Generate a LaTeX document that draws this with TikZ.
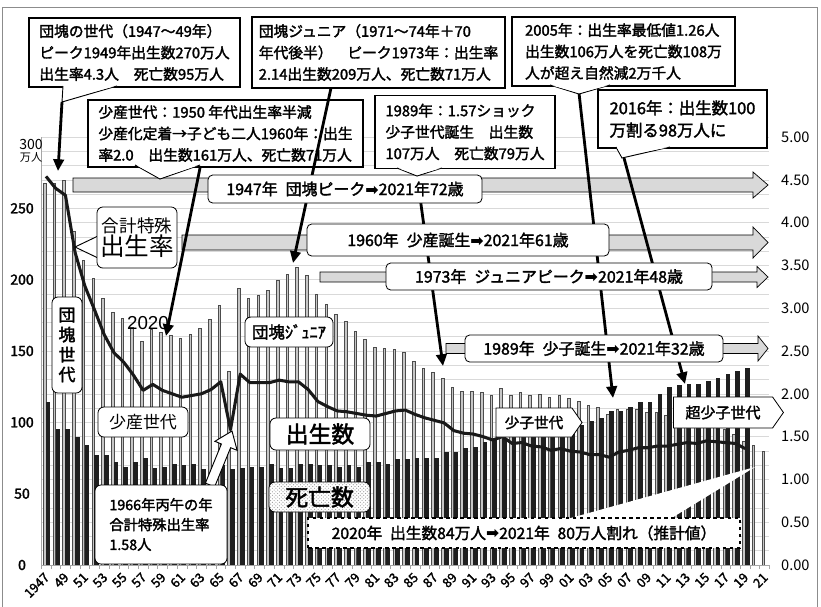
\documentclass[tikz,border=0pt]{standalone}
\usepackage{fontspec}
\setmainfont{Noto Sans CJK JP}[AutoFakeBold=2]
\newfontfamily\symfont{DejaVu Sans}
\newfontfamily\numfont{Liberation Sans}
\usepackage{tikz}
\usetikzlibrary{arrows.meta,patterns,shapes.symbols}

\newcommand\pix{*0.03cm}
\newcommand\fs[2]{\fontsize{#1}{#2}\selectfont}
\newcommand\goto{{\symfont ➡}}
% gray arrow: start x, centre y, body half, head half, head base
\newcommand\agearrow[5]{\draw[age arrow] (#1,{#2-#3}) -- (#5,{#2-#3}) -- (#5,{#2-#4}) -- (768,#2) -- (#5,{#2+#4}) -- (#5,{#2+#3}) -- (#1,{#2+#3}) -- cycle;}

\tikzset{
  grid line/.style={gray!30, line width=0.5pt},
  axis line/.style={gray!70, line width=0.6pt},
  birth bar/.style={fill=gray!45, draw=black!70, line width=0.25pt},
  death bar/.style={fill=black!88},
  rate line/.style={black!90, line width=2.6pt, line join=round},
  age arrow/.style={fill=gray!30, draw=black, line width=0.6pt},
  call arrow/.style={line width=2.4pt, -{Triangle[length=10pt,width=9pt]}},
  wedge/.style={fill=white, draw=black, line width=0.8pt},
  notebox/.style={draw=black, fill=white, line width=1.1pt, inner sep=0pt, align=left, font=\bfseries\fs{12.6}{18.3}},
  agebox/.style={draw=black, fill=white, rounded corners=4pt, line width=0.7pt, inner sep=0pt, font=\bfseries\fs{13.6}{15}},
  tagbox/.style={draw=black, fill=white, rounded corners=5pt, line width=0.7pt, inner sep=0pt, align=center},
  genbox/.style={signal, signal to=east, signal pointer angle=110, draw=black, fill=white, line width=0.7pt, inner sep=0pt},
  lefttick/.style={font=\bfseries\fs{12}{14}},
  righttick/.style={anchor=west, font=\fs{12.5}{14}},
  yeartick/.style={anchor=east, rotate=45, inner sep=0pt, font=\bfseries\fs{11}{12}}
}

\begin{document}
\begin{tikzpicture}[x=0.03cm, y=-0.03cm]
\useasboundingbox (0,0) rectangle (821,606);
\draw[black!45, line width=0.8pt] (2,7) rectangle (817,620);

% grid
\foreach \v in {10,20,...,300}
  \draw[grid line] (41,{565-1.4267*\v}) -- (769,{565-1.4267*\v});

% births (10k)
\foreach \b [count=\k from 0] in {268,268,270,234,214,201,187,177,173,167,157,165,163,161,159,162,166,172,182,136,194,187,189,193,200,204,209,203,190,183,176,171,164,158,153,152,151,149,143,138,135,131,125,122,122,121,119,124,119,121,119,120,118,119,117,115,112,111,106,109,109,109,107,107,105,104,103,100,101,98,95,92,87,84,80}
  \draw[birth bar] ({43.1+9.71*\k},565) rectangle ({45.7+9.71*\k},{565-1.4267*\b});
% deaths (10k)
\foreach \d [count=\k from 0] in {114,95,95,90,84,77,77,72,69,72,75,68,69,71,70,71,67,67,70,67,68,69,69,71,68,68,71,71,70,70,69,70,69,72,72,71,74,74,75,75,75,79,79,82,83,86,88,88,92,90,91,94,98,96,97,98,101,103,108,108,111,114,114,120,125,126,127,127,129,131,134,136,138}
  \fill[death bar] ({45.8+9.71*\k},565) rectangle ({50.4+9.71*\k},{565-1.4267*\d});

% axes
\draw[axis line] (41.2,137) -- (41.2,565) -- (769,565);
\foreach \k in {0,...,75}
  \draw[axis line] ({41.2+9.71*\k},565) -- ++(0,4);

% total fertility rate
\draw[rate line] (46,{565-85.6*4.54}) \foreach \r [count=\k] in {4.40,4.32,3.65,3.26,2.98,2.69,2.48,2.37,2.22,2.04,2.11,2.04,2.00,1.96,1.98,2.00,2.05,2.14,1.58,2.23,2.13,2.13,2.13,2.16,2.14,2.14,2.05,1.91,1.85,1.80,1.79,1.77,1.75,1.74,1.77,1.80,1.81,1.76,1.72,1.69,1.66,1.57,1.54,1.53,1.50,1.46,1.50,1.42,1.43,1.39,1.38,1.34,1.36,1.33,1.32,1.29,1.29,1.26,1.32,1.34,1.37,1.37,1.39,1.39,1.41,1.43,1.42,1.45,1.44,1.43,1.42,1.36} { -- ({46+9.71*\k},{565-85.6*\r}) };

% axis labels
\foreach \v in {0,50,100,150,200,250}
  \node[lefttick] (yl\v) at (22,{565-1.4267*\v}) {\v};
\node[lefttick, font=\fs{12}{14}] (ytop) at (31,144) {300};
\node[font=\fs{9.5}{10}] (yunit) at (31,157) {万人};
\foreach \r [count=\k] in {0.00,0.50,1.00,1.50,2.00,2.50,3.00,3.50,4.00,4.50,5.00}
  \node[righttick] (yr\k) at (777,{565-85.6*\r}) {\r};
\foreach \lab [count=\k from 0] in {1947,49,51,53,55,57,59,61,63,65,67,69,71,73,75,77,79,81,83,85,87,89,91,93,95,97,99,01,03,05,07,09,11,13,15,17,19,21}
  \node[yeartick] (yx\k) at ({47+19.42*\k},575) {\lab};

% gray age arrows
\agearrow{73}{185}{7}{13}{753}
\agearrow{182}{242.5}{7.5}{15.5}{753}
\agearrow{320}{277}{5}{10.5}{757}
\agearrow{446}{348.5}{5}{12.5}{758}

% note C sits under the junior arrow
\node[notebox, minimum width=275\pix, minimum height=67\pix] (noteC) at (225.5,133.5)
  {少産世代：1950 年代出生率半減\\少産化定着→子ども二人1960年：出生\\率2.0　出生数161万人、死亡数71万人};
\draw[wedge] (135,165) -- (160,179) -- (200,165);
\fill[white] (137,165.5) -- (160,178) -- (198,165.5) -- cycle;

% pointers
\coordinate (pA) at (62,102);   \coordinate (tA) at (58,171);
\coordinate (pB) at (331,88);   \coordinate (tB) at (293,263);
\coordinate (pC) at (200,168);  \coordinate (tC) at (166,336);
\coordinate (pD) at (417,175);  \coordinate (tD) at (443,366);
\coordinate (pE) at (579,93);   \coordinate (tE) at (613,398);
\coordinate (pF) at (624,158);  \coordinate (tF) at (685,384);
\foreach \p in {A,B,C,D,E,F}
  \draw[call arrow] (p\p) -- (t\p);

% age labels on the arrows
\node[agebox, minimum width=274\pix, minimum height=28\pix] (age47) at (345,189) {1947年\enspace 団塊ピーク\goto2021年72歳};
\node[agebox, minimum width=302\pix, minimum height=32\pix] (age60) at (458,240) {1960年\enspace 少産誕生\goto2021年61歳};
\node[agebox, minimum width=326\pix, minimum height=27\pix] (age73) at (549,276.5) {1973年\enspace ジュニアピーク\goto2021年48歳};
\node[agebox, minimum width=258\pix, minimum height=27\pix] (age89) at (594,348.5) {1989年\enspace 少子誕生\goto2021年32歳};

% notes
\node[notebox, minimum width=211\pix, minimum height=69\pix] (noteA) at (134.5,52.5)
  {団塊の世代（1947〜49年）\\ピーク1949年出生数270万人\\出生率4.3人　死亡数95万人};
\draw[wedge] (63,86) -- (62,102) -- (117,86);
\fill[white] (64,86.5) -- (63,100) -- (114,86.5) -- cycle;
\node[notebox, minimum width=253\pix, minimum height=71\pix] (noteB) at (378.5,52.5)
  {団塊ジュニア（1971〜74年＋70\\年代後半）　ピーク1973年：出生率\\2.14出生数209万人、死亡数71万人};
\node[notebox, minimum width=180\pix, minimum height=73\pix] (noteD) at (465,132)
  {1989年：1.57ショック\\少子世代誕生　出生数\\107万人　死亡数79万人};
\draw[wedge] (397,168) -- (417,176) -- (442,168);
\fill[white] (399,168.5) -- (417,175) -- (440,168.5) -- cycle;
\node[notebox, minimum width=223\pix, minimum height=69\pix] (noteE) at (623.5,51.5)
  {2005年：出生率最低値1.26人\\出生数106万人を死亡数108万\\人が超え自然減2万千人};
\draw[wedge] (550,85) -- (579,94) -- (610,85);
\fill[white] (552,85.5) -- (579,93) -- (608,85.5) -- cycle;
\node[notebox, minimum width=169\pix, minimum height=58\pix, font=\bfseries\fs{14}{19}] (noteF) at (682.5,119)
  {2016年：出生数100\\万割る98万人に};
\draw[wedge] (616,147) -- (622,158) -- (670,147);
\fill[white] (617,147.5) -- (622,156) -- (668,147.5) -- cycle;

% labels in the chart
\draw[wedge] (98,236) -- (75,247) -- (98,258);
\node[tagbox, minimum width=80\pix, minimum height=61\pix] (rateLabel) at (137,237.5)
  {{\fs{15}{18}合計特殊}\\{\fs{21}{24}出生率}};
\node[tagbox, minimum width=30\pix, minimum height=96\pix, font=\bfseries\fs{14.5}{17}] (dankaiLabel) at (67,345) {団\\塊\\世\\代};
\node[font=\numfont\fs{16}{18}] (yr2020) at (148,323) {2020};
\node[tagbox, minimum width=88\pix, minimum height=30\pix, font=\bfseries\fs{14}{16}] (juniorLabel) at (289,332) {団塊ｼﾞｭﾆｱ};
\node[tagbox, minimum width=90\pix, minimum height=30\pix, font=\fs{14.5}{16}] (shousanLabel) at (143,422) {少産世代};
\node[tagbox, minimum width=100\pix, minimum height=32\pix, font=\bfseries\fs{19.5}{22}] (birthLabel) at (320,434) {出生数};
\node[tagbox, minimum width=101\pix, minimum height=30\pix, preaction={fill=white}, pattern=crosshatch dots, pattern color=gray!80, font=\bfseries\fs{19.5}{22}] (deathLabel) at (319.5,497) {死亡数};

% 1966 note with white arrow
\draw[wedge] (205.4,483.1) -- (221.4,444) -- (214.9,441.3) -- (232,431) -- (237.1,450.3) -- (230.6,447.7) -- (214.6,486.9) -- cycle;
\node[tagbox, align=left, minimum width=132\pix, minimum height=79\pix, font=\bfseries\fs{12.2}{17}] (hinoeNote) at (161,524.5)
  {1966年丙午の年\\合計特殊出生率\\1.58人};

% 2020 note
\fill[white] (567,519) -- (755,467) -- (670,519) -- cycle;
\node[draw=black, dashed, fill=white, line width=1.1pt, inner sep=0pt, minimum width=432\pix, minimum height=30\pix, font=\bfseries\fs{13.4}{15}] (note2020) at (524,533)
  {2020年\enspace 出生数84万人\goto2021年\enspace 80万人割れ（推計値）};

% generation tags
\node[genbox, minimum width=86\pix, minimum height=29\pix, font=\bfseries\fs{12.5}{14}] (shoushiTag) at (534,422.5) {少子世代};
\node[genbox, minimum width=110\pix, minimum height=31\pix, font=\bfseries\fs{12.8}{14}] (choushoushiTag) at (723,412.5) {超少子世代};
\end{tikzpicture}
\end{document}
